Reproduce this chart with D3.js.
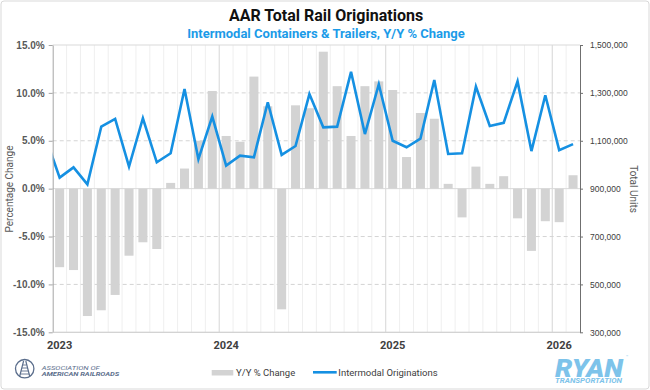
<!DOCTYPE html>
<html><head><meta charset="utf-8">
<script src="https://cdn.jsdelivr.net/npm/d3@7/dist/d3.min.js"></script>
<style>body{margin:0;background:#fff}svg{display:block;font-family:Roboto,"Noto Sans",sans-serif}</style>
</head><body><svg id="c" width="650" height="390"></svg>
<script>
const months=["2023-01","2023-02","2023-03","2023-04","2023-05","2023-06","2023-07","2023-08","2023-09","2023-10","2023-11","2023-12",
"2024-01","2024-02","2024-03","2024-04","2024-05","2024-06","2024-07","2024-08","2024-09","2024-10","2024-11","2024-12",
"2025-01","2025-02","2025-03","2025-04","2025-05","2025-06","2025-07","2025-08","2025-09","2025-10","2025-11","2025-12",
"2026-01","2026-02"];
const yoyChange=[-8.2,-8.5,-13.3,-12.7,-11.1,-7.0,-5.6,-6.3,0.6,2.1,5.0,10.2,
5.5,4.9,11.7,8.6,-12.6,8.7,8.4,14.3,10.7,5.5,10.7,11.2,
10.3,3.3,7.9,7.3,0.5,-3.0,2.3,0.5,1.3,-3.1,-6.5,-3.4,
-3.5,1.4];
const priorMonth="2022-12";
const priorUnits=1112000;
const units=[946000,989000,918000,1159000,1191000,992000,1194000,1010000,1048000,1316000,1023000,1201000,
996000,1038000,1031000,1261000,1041000,1078000,1295000,1156000,1159000,1388000,1128000,1336000,
1100000,1073000,1109000,1354000,1045000,1048000,1326000,1162000,1175000,1348000,1057000,1290000,
1061000,1086000];
const leftTicks=[-15,-10,-5,0,5,10,15];
const rightTicks=[300000,500000,700000,900000,1100000,1300000,1500000];
const yearLabels=["2023","2024","2025","2026"];

const m={l:52.7,r:580,t:45,b:332.3};
const svg=d3.select("#c");
svg.append("rect").attr("x",1).attr("y",1).attr("width",648).attr("height",388).attr("rx",3)
  .attr("fill","#fff").attr("stroke","#d9d9d9");

const x=d3.scaleLinear().domain([0,months.length]).range([m.l,m.r]);
const yL=d3.scaleLinear().domain([-15,15]).range([m.b,m.t]);
const yR=d3.scaleLinear().domain([300000,1500000]).range([m.b,m.t]);

// vertical gridlines
const g=svg.append("g");
d3.range(1,months.length).forEach(i=>{
  const yr=months[i].endsWith("-01");
  g.append("line").attr("x1",x(i)).attr("x2",x(i)).attr("y1",m.t).attr("y2",m.b)
   .attr("stroke",yr?"#d6d6d6":"#efefef").attr("stroke-width",1);
});
// horizontal gridlines
leftTicks.forEach(t=>{
  const solid=(t===0||t===15||t===-15);
  g.append("line").attr("x1",m.l).attr("x2",m.r).attr("y1",yL(t)).attr("y2",yL(t))
   .attr("stroke",solid?"#d9d9d9":"#d4d4d4").attr("stroke-width",1)
   .attr("stroke-dasharray",solid?null:"4,3");
});

// bars
const step=x(1)-x(0), bw=step*0.65;
svg.append("g").selectAll("rect").data(yoyChange).join("rect")
  .attr("x",(d,i)=>x(i+0.5)-bw/2).attr("width",bw)
  .attr("y",d=>yL(Math.max(0,d))).attr("height",d=>Math.abs(yL(d)-yL(0)))
  .attr("fill","#d3d3d3");

// line
svg.append("clipPath").attr("id","clip").append("rect")
  .attr("x",m.l).attr("y",0).attr("width",m.r-m.l).attr("height",390);
const lineData=[{i:-1,v:priorUnits}].concat(units.map((v,i)=>({i,v})));
svg.append("path").datum(lineData).attr("clip-path","url(#clip)")
  .attr("fill","none").attr("stroke","#1590e2").attr("stroke-width",2.6).attr("stroke-linejoin","miter")
  .attr("d",d3.line().x(d=>x(d.i+0.5)).y(d=>yR(d.v)));

// left axis
const ax=svg.append("g").attr("transform",`translate(${m.l},0)`)
  .call(d3.axisLeft(yL).tickValues(leftTicks).tickFormat(d=>d.toFixed(1)+"%").tickSize(4).tickSizeOuter(0).tickPadding(4));
ax.select(".domain").attr("stroke","#a6a6a6");
ax.selectAll(".tick line").attr("stroke","#a6a6a6");
ax.selectAll("text").attr("fill","#595959").attr("font-size",10).attr("font-weight","bold");

// right axis
const ar=svg.append("g").attr("transform",`translate(${m.r},0)`)
  .call(d3.axisRight(yR).tickValues(rightTicks).tickFormat(d3.format(",")).tickSize(3).tickSizeOuter(0).tickPadding(7));
ar.select(".domain").attr("stroke","#6f6f6f");
ar.selectAll(".tick line").attr("stroke","#6f6f6f");
ar.selectAll("text").attr("fill","#404040").attr("font-size",8.5);

// bottom axis line
svg.append("line").attr("x1",m.l).attr("x2",m.r).attr("y1",m.b).attr("y2",m.b).attr("stroke","#d0d0d0");
// year labels
yearLabels.forEach(yl=>{
  const i=months.indexOf(yl+"-01");
  svg.append("text").attr("x",x(i+0.5)).attr("y",349).attr("text-anchor","middle")
    .attr("font-size",11).attr("font-weight","bold").attr("fill","#404040").text(yl);
});

// axis titles
svg.append("text").attr("transform","translate(13,189) rotate(-90)").attr("text-anchor","middle")
  .attr("font-size",10).attr("fill","#595959").text("Percentage Change");
svg.append("text").attr("transform","translate(630,189) rotate(90)").attr("text-anchor","middle")
  .attr("font-size",10).attr("fill","#595959").text("Total Units");

// titles
svg.append("text").attr("x",326).attr("y",21).attr("text-anchor","middle")
  .attr("font-size",16).attr("font-weight","bold").attr("fill","#111").text("AAR Total Rail Originations");
svg.append("text").attr("x",326).attr("y",38).attr("text-anchor","middle")
  .attr("font-size",13).attr("font-weight","bold").attr("fill","#1b9be8").text("Intermodal Containers & Trailers, Y/Y % Change");

// legend
svg.append("rect").attr("x",211.7).attr("y",370).attr("width",21.6).attr("height",5.5).attr("fill","#d3d3d3");
svg.append("text").attr("x",236).attr("y",375.7).attr("font-size",9.5).attr("fill","#404040").text("Y/Y % Change");
svg.append("line").attr("x1",313).attr("x2",336.7).attr("y1",372.3).attr("y2",372.3).attr("stroke","#1590e2").attr("stroke-width",2.6);
svg.append("text").attr("x",338.3).attr("y",375.7).attr("font-size",9.5).attr("fill","#404040").text("Intermodal Originations");

// AAR logo
const aar=svg.append("g").attr("stroke","#5b6e8c").attr("fill","none");
aar.append("circle").attr("cx",24.7).attr("cy",368.7).attr("r",9.2).attr("stroke-width",1.3);
aar.append("path").attr("d","M23.6,361 L19.5,377 M25.8,361 L29.9,377").attr("stroke-width",1.2);
[365,368,371,374].forEach((yy,k)=>aar.append("line").attr("x1",23-k*0.9).attr("x2",26.4+k*0.9).attr("y1",yy).attr("y2",yy).attr("stroke-width",0.9));
svg.append("text").attr("x",41.7).attr("y",369.6).attr("font-size",5.2).attr("font-style","italic").attr("fill","#5b6e8c")
  .attr("textLength",58).attr("lengthAdjust","spacingAndGlyphs").text("ASSOCIATION OF");
svg.append("text").attr("x",41.7).attr("y",375.9).attr("font-size",5.6).attr("font-style","italic").attr("font-weight","bold").attr("fill","#5b6e8c")
  .attr("textLength",77.6).attr("lengthAdjust","spacingAndGlyphs").text("AMERICAN RAILROADS");

// RYAN logo
svg.append("text").attr("x",555).attr("y",376.5).attr("font-size",26).attr("font-style","italic").attr("font-weight","900").attr("fill","#7dc3ea")
  .attr("textLength",68).attr("lengthAdjust","spacingAndGlyphs").text("RYAN");
svg.append("text").attr("x",555).attr("y",383).attr("font-size",6.4).attr("font-style","italic").attr("font-weight","bold").attr("fill","#7dc3ea")
  .attr("textLength",67).attr("lengthAdjust","spacingAndGlyphs").text("TRANSPORTATION");
svg.append("text").attr("x",626).attr("y",358).attr("font-size",3.5).attr("fill","#7dc3ea").text("™");
</script></body></html>
